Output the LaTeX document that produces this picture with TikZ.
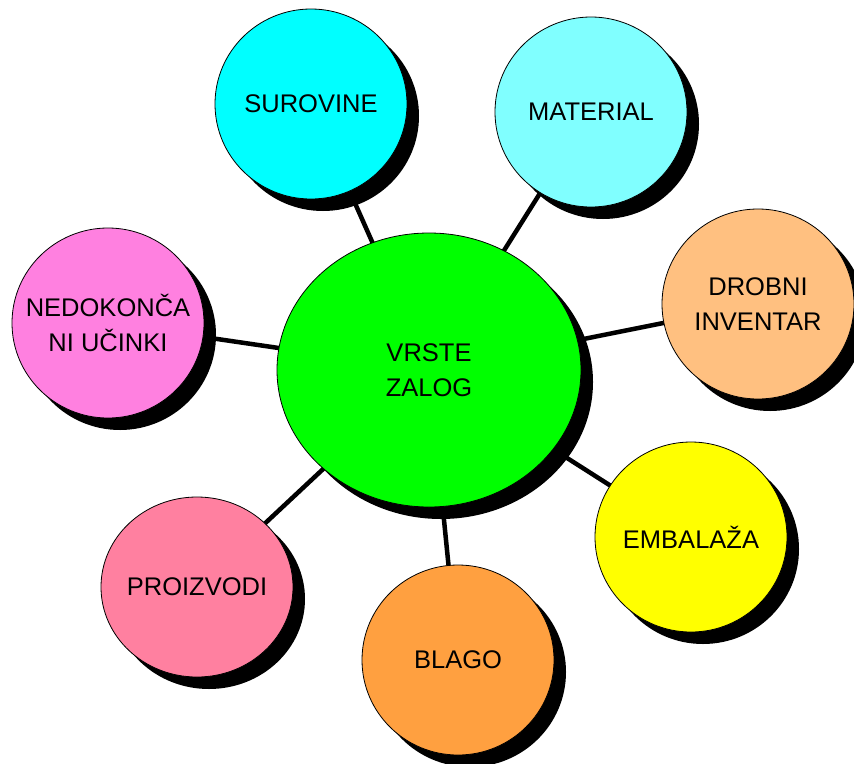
\documentclass[tikz,border=0pt]{standalone}
\usepackage{fontspec}
\setmainfont{Liberation Sans}
\usetikzlibrary{shapes.geometric,shadows,backgrounds}
\definecolor{surcol}{RGB}{0,255,255}
\definecolor{matcol}{RGB}{128,255,255}
\definecolor{invcol}{RGB}{255,192,128}
\definecolor{embcol}{RGB}{255,255,0}
\definecolor{blacol}{RGB}{255,160,64}
\definecolor{procol}{RGB}{255,128,160}
\definecolor{nedcol}{RGB}{255,128,224}
\definecolor{hubcol}{RGB}{0,255,0}
\begin{document}
\begin{tikzpicture}[
    x=1pt, y=-1pt,
    every node/.style={draw=black,line width=0.8pt,ellipse,inner sep=0pt,align=center,
        font=\fontsize{25.5}{35}\selectfont,
        drop shadow={shadow xshift=12pt,shadow yshift=-12pt,fill=black,opacity=1}},
    leaf/.style={minimum width=192pt,minimum height=190pt,inner xsep=-30pt},
    hub/.style={minimum width=304pt,minimum height=274pt,fill=hubcol},
    spoke/.style={draw,line width=4.5pt}
]
\useasboundingbox (0,0) rectangle (854,763);
\node[hub] (c) at (429,370) {VRSTE\\ZALOG};
\node[leaf,fill=surcol] (sur) at (311,104) {SUROVINE};
\node[leaf,fill=matcol] (mat) at (591,112) {MATERIAL};
\node[leaf,fill=invcol] (inv) at (758,304) {DROBNI\\INVENTAR};
\node[leaf,fill=embcol] (emb) at (691,537) {EMBALAŽA};
\node[leaf,fill=blacol] (bla) at (458,660) {BLAGO};
\node[leaf,fill=procol,minimum height=180pt] (pro) at (197,587) {PROIZVODI};
\node[leaf,fill=nedcol] (ned) at (108,323) {NEDOKONČA\\NI UČINKI};
\begin{pgfonlayer}{background}
\foreach \n in {sur,mat,inv,emb,bla,pro,ned}
    \draw[spoke] (c.center) -- (\n.center);
\end{pgfonlayer}
\end{tikzpicture}
\end{document}
